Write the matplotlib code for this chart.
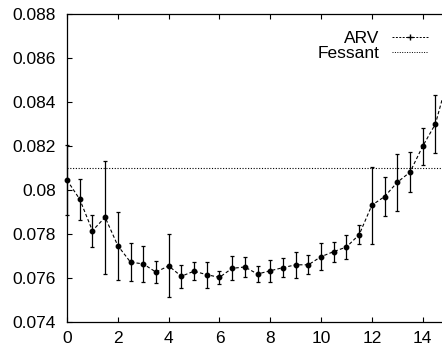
import matplotlib
matplotlib.use("Agg")
import matplotlib.pyplot as plt
from matplotlib.lines import Line2D

# ARV curve with error bars, Fessant reference level
steps = [0, 0.5, 1, 1.5, 2, 2.5, 3, 3.5, 4, 4.5, 5, 5.5, 6, 6.5, 7, 7.5,
         8, 8.5, 9, 9.5, 10, 10.5, 11, 11.5, 12, 12.5, 13, 13.5, 14, 14.5, 15]
arv = [0.08045, 0.07958, 0.07815, 0.07876, 0.07747, 0.07672, 0.07664, 0.07627,
       0.07655, 0.07608, 0.07631, 0.07615, 0.07603, 0.07644, 0.07650, 0.07618,
       0.07633, 0.07647, 0.07660, 0.07660, 0.07697, 0.07720, 0.07741, 0.07797,
       0.07931, 0.07970, 0.08035, 0.08081, 0.08199, 0.08300, 0.08510]
arv_err = [0.0016, 0.00093, 0.00072, 0.00258, 0.00155, 0.00087, 0.00083, 0.0005,
           0.00143, 0.00053, 0.0004, 0.0006, 0.0003, 0.00055, 0.00045, 0.00035,
           0.0005, 0.00043, 0.0006, 0.00044, 0.0006, 0.00045, 0.00053, 0.00044,
           0.00175, 0.0009, 0.0013, 0.0009, 0.00085, 0.0013, 0.0015]
fessant = 0.081

y_ticks = [0.074, 0.076, 0.078, 0.08, 0.082, 0.084, 0.086, 0.088]
y_labels = ["0.074", "0.076", "0.078", "0.08", "0.082", "0.084", "0.086", "0.088"]
x_ticks = [0, 2, 4, 6, 8, 10, 12, 14]

plt.rcParams['font.family'] = ['Liberation Sans', 'DejaVu Sans']
plt.rcParams['font.size'] = 12.5

fig = plt.figure(figsize=(4.42, 3.5), dpi=100)
ax = fig.add_axes([67 / 442, 28 / 350, 1 - 67 / 442, 308 / 350])

ax.errorbar(steps, arv, yerr=arv_err, fmt='none', ecolor='black',
            elinewidth=0.9, capsize=1.6, capthick=0.9, clip_on=False, zorder=3)
ax.plot(steps, arv, color='black', linestyle=(0, (3, 2)), linewidth=0.8,
        marker='o', markersize=3.2, clip_on=False, zorder=4)
ax.axhline(fessant, color='black', linestyle=(0, (1, 1.5)), linewidth=0.8)

ax.set_xlim(0, 14.76)
ax.set_ylim(0.074, 0.088)
ax.set_xticks(x_ticks)
ax.set_yticks(y_ticks)
ax.set_yticklabels(y_labels)
ax.spines['right'].set_visible(False)
for s in ['left', 'bottom', 'top']:
    ax.spines[s].set_linewidth(0.9)
ax.tick_params(direction='in', top=True, right=False, length=3.5, width=0.8)
ax.tick_params(axis='y', pad=8)
ax.tick_params(axis='x', pad=6.5)

handles = [
    Line2D([], [], color='black', linestyle=(0, (2, 1.5)), linewidth=0.7,
           marker='+', markersize=4),
    Line2D([], [], color='black', linestyle=(0, (1, 1.5)), linewidth=0.7),
]
ax.legend(handles, ["ARV", "Fessant"], loc='upper right',
          bbox_to_anchor=(0.995, 0.985), frameon=False, markerfirst=False,
          handlelength=2.1, handletextpad=0.7, labelspacing=0.0,
          borderaxespad=0.3, fontsize=12.5)

fig.savefig("out.png", dpi=100)
